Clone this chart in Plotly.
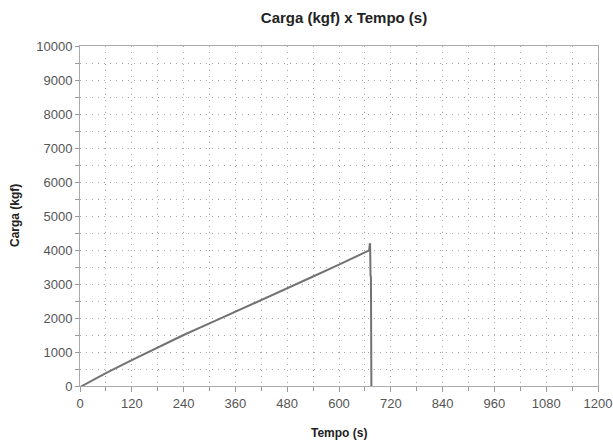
import plotly.graph_objects as go

tempo = [0, 60, 120, 180, 240, 300, 360, 420, 480, 540, 600, 660, 670, 671, 672, 673, 674, 675]
carga = [-30, 380, 760, 1130, 1500, 1840, 2180, 2520, 2870, 3220, 3570, 3930, 3990, 4150, 4200, 3250, 3200, 0]

x_ticks = [0, 120, 240, 360, 480, 600, 720, 840, 960, 1080, 1200]
y_ticks = [0, 1000, 2000, 3000, 4000, 5000, 6000, 7000, 8000, 9000, 10000]

L, R, T, B = 80, 15, 46, 57
W, H = 613, 443
pw, ph = W - L - R, H - T - B

fig = go.Figure()
fig.add_trace(go.Scatter(x=tempo, y=carga, mode="lines",
                         line=dict(color="#727272", width=2), showlegend=False))

fam = "Liberation Sans, Arial, sans-serif"
tick_font = dict(family=fam, size=13, color="#555555")
grid = dict(showgrid=True, gridcolor="#a8a8a8", griddash="1px,5px", gridwidth=1)

fig.update_layout(
    width=W, height=H,
    margin=dict(l=L, r=R, t=T, b=B),
    paper_bgcolor="white", plot_bgcolor="white",
    title=dict(text="<b>Carga (kgf) x Tempo (s)</b>", x=344 / W, xanchor="center",
               y=1 - 18 / H, yanchor="middle",
               font=dict(family=fam, size=15, color="#222222")),
    xaxis=dict(range=[0, 1200], tickvals=x_ticks, ticktext=[str(v) for v in x_ticks],
               ticks="outside", ticklen=5, tickcolor="#999999",
               showline=True, linecolor="#aaaaaa", linewidth=1, mirror=True,
               **grid,
               minor=dict(dtick=60, tick0=0, ticks="outside", ticklen=4, tickcolor="#999999",
                          **grid),
               zeroline=False, tickfont=tick_font, automargin=False),
    yaxis=dict(range=[0, 10000], tickvals=y_ticks, ticktext=[str(v) for v in y_ticks],
               ticks="outside", ticklen=4, tickcolor="#999999",
               showline=True, linecolor="#aaaaaa", linewidth=1, mirror=True,
               **grid,
               minor=dict(dtick=500, tick0=0, ticks="outside", ticklen=4, tickcolor="#999999",
                          **grid),
               zeroline=False, tickfont=tick_font, automargin=False),
    annotations=[
        dict(text="<b>Tempo (s)</b>", xref="paper", yref="paper",
             x=0.5, y=-(433 - (H - B)) / ph, xanchor="center", yanchor="middle",
             showarrow=False, font=dict(family=fam, size=12, color="#222222")),
        dict(text="<b>Carga (kgf)</b>", xref="paper", yref="paper", textangle=-90,
             x=(15 - L) / pw, y=0.5, xanchor="center", yanchor="middle",
             showarrow=False, font=dict(family=fam, size=12, color="#222222")),
    ],
)

fig.write_html("out.html", config={"displayModeBar": False},
               post_script="document.body.style.margin='0';")
